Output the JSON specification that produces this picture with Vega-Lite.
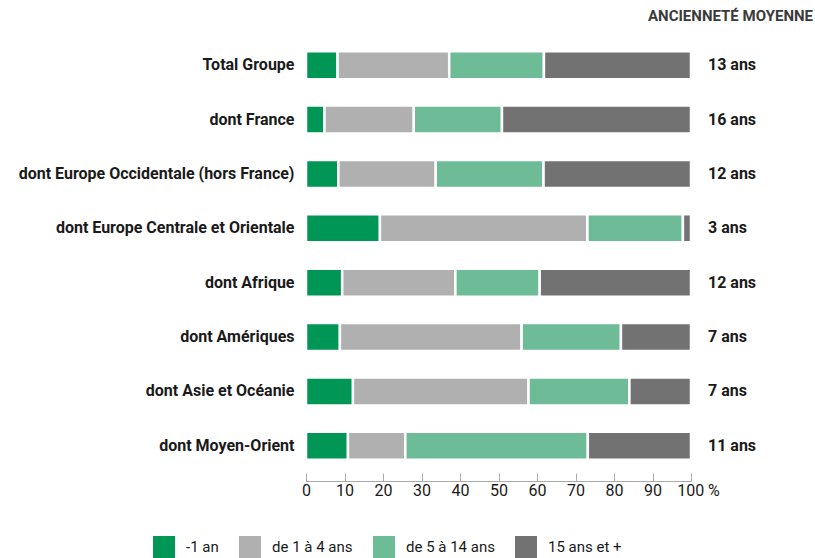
{
  "$schema": "https://vega.github.io/schema/vega-lite/v6.json",
  "autosize": {"type": "none"},
  "padding": {"left": 306, "top": 38, "right": 124, "bottom": 85},
  "width": 385,
  "height": 435,
  "background": "white",
  "title": {
    "text": "ANCIENNETÉ MOYENNE",
    "anchor": "end",
    "orient": "top",
    "frame": "group",
    "dx": 122,
    "offset": 14,
    "font": "Roboto",
    "fontSize": 15,
    "fontWeight": "bold",
    "color": "#3a3a3a"
  },
  "datasets": {
    "bars": [
      {"cat": "Total Groupe", "seg": "-1 an", "o": 1, "v": 8.2},
      {"cat": "Total Groupe", "seg": "de 1 à 4 ans", "o": 2, "v": 29.0},
      {"cat": "Total Groupe", "seg": "de 5 à 14 ans", "o": 3, "v": 24.6},
      {"cat": "Total Groupe", "seg": "15 ans et +", "o": 4, "v": 38.2},
      {"cat": "dont France", "seg": "-1 an", "o": 1, "v": 4.8},
      {"cat": "dont France", "seg": "de 1 à 4 ans", "o": 2, "v": 23.2},
      {"cat": "dont France", "seg": "de 5 à 14 ans", "o": 3, "v": 22.9},
      {"cat": "dont France", "seg": "15 ans et +", "o": 4, "v": 49.1},
      {"cat": "dont Europe Occidentale (hors France)", "seg": "-1 an", "o": 1, "v": 8.4},
      {"cat": "dont Europe Occidentale (hors France)", "seg": "de 1 à 4 ans", "o": 2, "v": 25.3},
      {"cat": "dont Europe Occidentale (hors France)", "seg": "de 5 à 14 ans", "o": 3, "v": 28.0},
      {"cat": "dont Europe Occidentale (hors France)", "seg": "15 ans et +", "o": 4, "v": 38.3},
      {"cat": "dont Europe Centrale et Orientale", "seg": "-1 an", "o": 1, "v": 19.2},
      {"cat": "dont Europe Centrale et Orientale", "seg": "de 1 à 4 ans", "o": 2, "v": 53.9},
      {"cat": "dont Europe Centrale et Orientale", "seg": "de 5 à 14 ans", "o": 3, "v": 24.8},
      {"cat": "dont Europe Centrale et Orientale", "seg": "15 ans et +", "o": 4, "v": 2.1},
      {"cat": "dont Afrique", "seg": "-1 an", "o": 1, "v": 9.4},
      {"cat": "dont Afrique", "seg": "de 1 à 4 ans", "o": 2, "v": 29.4},
      {"cat": "dont Afrique", "seg": "de 5 à 14 ans", "o": 3, "v": 21.9},
      {"cat": "dont Afrique", "seg": "15 ans et +", "o": 4, "v": 39.3},
      {"cat": "dont Amériques", "seg": "-1 an", "o": 1, "v": 8.8},
      {"cat": "dont Amériques", "seg": "de 1 à 4 ans", "o": 2, "v": 47.2},
      {"cat": "dont Amériques", "seg": "de 5 à 14 ans", "o": 3, "v": 25.8},
      {"cat": "dont Amériques", "seg": "15 ans et +", "o": 4, "v": 18.2},
      {"cat": "dont Asie et Océanie", "seg": "-1 an", "o": 1, "v": 12.2},
      {"cat": "dont Asie et Océanie", "seg": "de 1 à 4 ans", "o": 2, "v": 45.6},
      {"cat": "dont Asie et Océanie", "seg": "de 5 à 14 ans", "o": 3, "v": 26.2},
      {"cat": "dont Asie et Océanie", "seg": "15 ans et +", "o": 4, "v": 16.0},
      {"cat": "dont Moyen-Orient", "seg": "-1 an", "o": 1, "v": 10.9},
      {"cat": "dont Moyen-Orient", "seg": "de 1 à 4 ans", "o": 2, "v": 14.9},
      {"cat": "dont Moyen-Orient", "seg": "de 5 à 14 ans", "o": 3, "v": 47.4},
      {"cat": "dont Moyen-Orient", "seg": "15 ans et +", "o": 4, "v": 26.8}
    ],
    "labels": [
      {"cat": "Total Groupe", "anc": "13 ans"},
      {"cat": "dont France", "anc": "16 ans"},
      {"cat": "dont Europe Occidentale (hors France)", "anc": "12 ans"},
      {"cat": "dont Europe Centrale et Orientale", "anc": "3 ans"},
      {"cat": "dont Afrique", "anc": "12 ans"},
      {"cat": "dont Amériques", "anc": "7 ans"},
      {"cat": "dont Asie et Océanie", "anc": "7 ans"},
      {"cat": "dont Moyen-Orient", "anc": "11 ans"}
    ]
  },
  "encoding": {
    "y": {
      "field": "cat",
      "type": "nominal",
      "sort": ["Total Groupe", "dont France", "dont Europe Occidentale (hors France)", "dont Europe Centrale et Orientale", "dont Afrique", "dont Amériques", "dont Asie et Océanie", "dont Moyen-Orient"],
      "scale": {"paddingInner": 0.486, "paddingOuter": 0.243},
      "axis": {
        "title": null,
        "domain": false,
        "ticks": false,
        "labelPadding": 12,
        "labelFont": "Roboto",
        "labelFontSize": 16,
        "labelFontWeight": "bold",
        "labelColor": "#1a1a1a",
        "labelLimit": 400
      }
    }
  },
  "layer": [
    {
      "data": {"name": "bars"},
      "mark": {"type": "bar", "stroke": "white", "strokeWidth": 2.5},
      "encoding": {
        "x": {
          "field": "v",
          "type": "quantitative",
          "stack": "zero",
          "scale": {"domain": [0, 100], "nice": false},
          "axis": {
            "title": null,
            "values": [0, 10, 20, 30, 40, 50, 60, 70, 80, 90, 100],
            "tickCount": 20,
            "grid": false,
            "offset": 8,
            "domainColor": "#aaaaaa",
            "tickColor": "#aaaaaa",
            "tickSize": -8,
            "labelPadding": 9,
            "labelOverlap": false,
            "labelFlush": false,
            "labelFont": "Roboto",
            "labelFontSize": 16,
            "labelColor": "#1a1a1a",
            "labelExpr": "datum.value == 100 ? '100 %' : datum.label",
            "labelOffset": {"condition": {"test": "datum.value == 100", "value": 7}, "value": 0}
          }
        },
        "color": {
          "field": "seg",
          "type": "nominal",
          "scale": {
            "domain": ["-1 an", "de 1 à 4 ans", "de 5 à 14 ans", "15 ans et +"],
            "range": ["#009655", "#b0b0b0", "#6dbb97", "#727272"]
          },
          "legend": {
            "title": null,
            "orient": "none",
            "direction": "horizontal",
            "legendX": -153,
            "legendY": 498,
            "symbolType": "square",
            "symbolSize": 484,
            "symbolStrokeWidth": 0,
            "symbolOpacity": 1,
            "labelOffset": 11,
            "columnPadding": 20,
            "labelFont": "Roboto",
            "labelFontSize": 15,
            "labelColor": "#1a1a1a"
          }
        },
        "order": {"field": "o", "type": "quantitative"}
      }
    },
    {
      "data": {"name": "labels"},
      "mark": {
        "type": "text",
        "align": "left",
        "baseline": "middle",
        "dx": 17,
        "font": "Roboto",
        "fontSize": 16,
        "fontWeight": "bold",
        "color": "#1a1a1a"
      },
      "encoding": {
        "x": {"datum": 100, "type": "quantitative"},
        "text": {"field": "anc"}
      }
    }
  ],
  "config": {"view": {"stroke": null}}
}
